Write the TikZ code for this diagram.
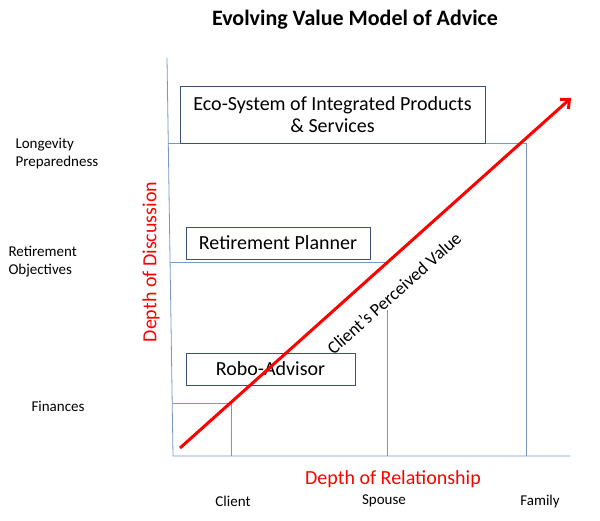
\documentclass[tikz,border=0pt]{standalone}
\usepackage{fontspec}
\setmainfont{Carlito}
\usetikzlibrary{positioning,calc,arrows.meta}
\definecolor{gridblue}{RGB}{120,150,200}
\definecolor{boxblue}{RGB}{60,80,120}

\begin{document}
\begin{tikzpicture}[x=1pt,y=-1pt,
			grid/.style={draw=gridblue,line width=0.8pt},
			stage/.style={draw=boxblue,line width=0.9pt,inner sep=0pt,font=\fontsize{20}{22}\selectfont,align=center},
			lvl/.style={anchor=west,font=\fontsize{15}{18}\selectfont,align=left},
			rel/.style={font=\fontsize{15}{17}\selectfont},
			axlab/.style={text=red,font=\fontsize{20}{22}\selectfont}]
			\useasboundingbox (0,0) rectangle (600,520);
			
			\node[font=\bfseries\fontsize{22}{24}\selectfont] (title) at (355,20) {Evolving Value Model of Advice};
			
			% axes
			\coordinate (top) at (167,58);
			\coordinate (orig) at (173,456);
			\coordinate (xend) at (570,456);
			\draw[grid] (top) -- (orig) -- (xend);
			
			% level lines
			\coordinate (c1) at (172,403);
			\coordinate (c2) at (231,403);
			\coordinate (c3) at (231,456);
			\draw[grid] (c1) -- (c2) -- (c3);
			\coordinate (s1) at (170,262);
			\coordinate (s2) at (387,262);
			\coordinate (s3) at (387,310);
			\coordinate (s4) at (387,456);
			\draw[grid] (s1) -- (s2);
			\draw[grid] (s3) -- (s4);
			\coordinate (f1) at (168,143);
			\coordinate (f2) at (526,143);
			\coordinate (f3) at (526,456);
			\draw[grid] (f1) -- (f2) -- (f3);
			
			% stages
			\node[stage,minimum width=305pt,minimum height=57pt] (eco) at (332.5,114.5) {Eco-System of Integrated Products\\\& Services};
			\node[stage,minimum width=184pt,minimum height=32pt] (plan) at (278,243) {Retirement Planner};
			\node[stage,minimum width=169pt,minimum height=32pt] (robo) at (270.5,369) {Robo-Advisor};
			
			% levels
			\node[lvl] (lon) at (12,154) {Longevity\\Preparedness};
			\node[lvl] (ret) at (5,262) {Retirement\\Objectives};
			\node[lvl] (fin) at (28,406) {Finances};
			
			% relationships
			\node[rel] (cli) at (233,501) {Client};
			\node[rel] (spo) at (384,501) {Spouse};
			\node[rel] (fam) at (540,501) {Family};
			
			\node[axlab] (xlab) at (393,479) {Depth of Relationship};
			\node[axlab,rotate=90] (ylab) at (151,262) {Depth of Discussion};
			
			% value arrow
			\coordinate (v0) at (180,448);
			\coordinate (v1) at (571,98);
			\draw[-{Straight Barb[length=7pt,width=13pt]},red,line width=3pt] (v0) -- (v1);
			\node[rotate=41.8,font=\fontsize{18}{20}\selectfont] (val) at (394,293) {Client’s Perceived Value};
			\end{tikzpicture}
\end{document}
